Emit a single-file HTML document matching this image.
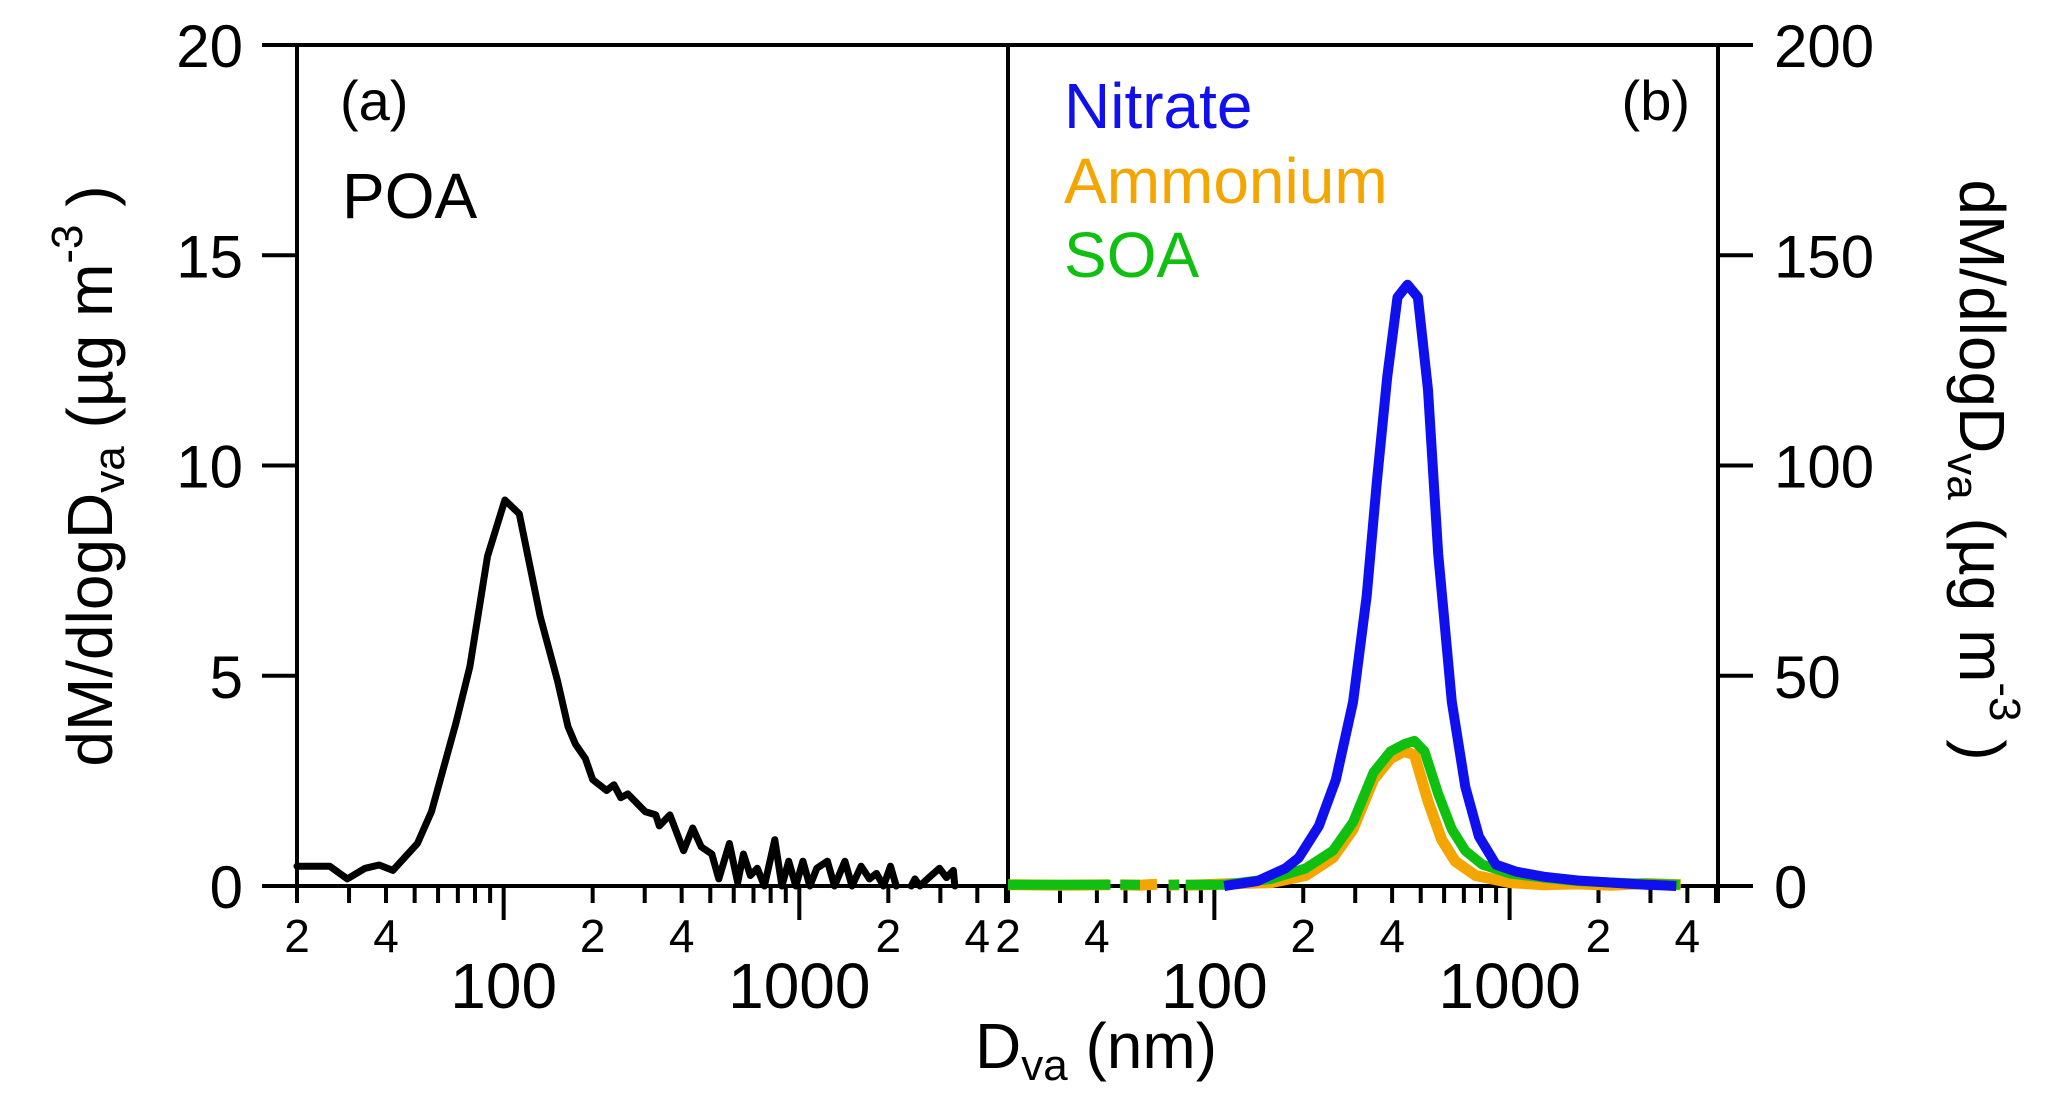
<!DOCTYPE html>
<html><head><meta charset="utf-8"><style>
html,body{margin:0;padding:0;background:#fff;}
svg{display:block;font-family:"Liberation Sans",Arial,sans-serif;}
</style></head><body>
<svg id="chart" width="2067" height="1110" viewBox="0 0 2067 1110" xmlns="http://www.w3.org/2000/svg">
<g id="axes"></g>
<g id="series"></g>
<text x="340" y="120" font-size="56">(a)</text>
<text x="342" y="218" font-size="64">POA</text>
<text x="1690" y="120" font-size="56" text-anchor="end">(b)</text>
<text x="1064" y="128" font-size="64" fill="#1010ee">Nitrate</text>
<text x="1064" y="203" font-size="64" fill="#f5a500">Ammonium</text>
<text x="1064" y="277" font-size="64" fill="#10c010">SOA</text>
<text x="975" y="1068" font-size="64">D<tspan font-size="44" dy="12">va</tspan><tspan dy="-12"> (nm)</tspan></text>
<text transform="translate(112,476) rotate(-90)" text-anchor="middle" font-size="64">dM/dlogD<tspan font-size="44" dy="12">va</tspan><tspan dy="-12"> (µg m</tspan><tspan font-size="44" dy="-30">-3</tspan><tspan dy="30"> )</tspan></text>
<text transform="translate(1960,470) rotate(90)" text-anchor="middle" font-size="64">dM/dlogD<tspan font-size="44" dy="12">va</tspan><tspan dy="-12"> (µg m</tspan><tspan font-size="44" dy="-30">-3</tspan><tspan dy="30"> )</tspan></text>
</svg>
<script>
// ---- data ----
const poaD = [20,25.8,29.6,34,37.9,42.2,51.1,57,69,76.9,88.2,101,113,133,152,165,175,189,200,223,236,249,263,301,327,336,365,406,436,466,506,534,580,619,647,683,721,762,826,873,921,973,1028,1086,1146,1245,1315,1426,1507,1618,1727,1824,1927,2034,2126,null,2393,2460,2557,2744,2980,3146,3321,3357];
const poaY = [0.47,0.47,0.17,0.42,0.5,0.37,1.01,1.77,3.88,5.22,7.84,9.18,8.85,6.4,4.89,3.79,3.37,3.03,2.53,2.27,2.41,2.1,2.19,1.77,1.69,1.43,1.69,0.84,1.38,0.93,0.76,0.17,1.01,0.08,0.76,0.25,0.42,0,1.1,0,0.59,0,0.59,0,0.42,0.59,0,0.59,0,0.47,0.17,0.3,0,0.47,0,null,0,0.17,0,0.2,0.42,0.2,0.37,0];
const nitrateD = [108,140,174,193,226,258,295,328,355,385,417,451,489,529,573,637,708,787,899,1054,1304,1700,2217,2890,3670];
const nitrateY = [0,1.2,4.2,6.7,14.3,25.3,43.8,69,96,121,140,143,140,118,79,43.8,23.6,11.8,5.1,3.4,2.2,1.3,0.8,0.3,0];
const ammoniumD = [20,30,44,null,48,56,64,null,70,76,null,80,92,108,156,204,252,295,346,395,439,476,529,589,654,767,1000,1304,1700,2200,2900,3800];
const ammoniumY = [0.3,0.2,0.3,null,0.3,0.2,0.4,null,0.2,0.3,null,0.2,0.3,0.5,0.8,2.5,6.7,13.5,25.3,30.3,32,31.2,20.2,11,5.9,2.5,0.8,0.3,0.5,0.2,0.6,0.3];
const soaD = [20,30,44.5,null,48,56,null,70,76,null,80,92,108,156,204,252,295,346,395,439,476,515,573,637,708,809,1000,1304,1700,2466,3770];
const soaY = [0.3,0.3,0.3,null,0.3,0.3,null,0.3,0.3,null,0.3,0.3,0.3,1.7,4.2,8.4,15.2,27,32,33.7,34.5,32,21.9,13.5,8.4,5.1,3,2,1.2,0.7,0.3];
const leftTicks = [0,5,10,15,20];
const rightTicks = [0,50,100,150,200];
const minorLabelVals = [20,40,200,400,2000,4000];
const majorLabelVals = [100,1000];

// ---- scales ----
const NS = "http://www.w3.org/2000/svg";
const Y0 = 886, YT = 45, XMIN = 20, XMAX = 5080;
const panels = [{x0:297,x1:1008},{x0:1008,x1:1718}];
function xs(p, d){ const P = panels[p]; return P.x0 + (Math.log10(d)-Math.log10(XMIN))/(Math.log10(XMAX)-Math.log10(XMIN))*(P.x1-P.x0); }
function yl(v){ return Y0 - v/20*(Y0-YT); }
function yr(v){ return Y0 - v/200*(Y0-YT); }
const axes = document.getElementById('axes');
const series = document.getElementById('series');
function mk(tag, attrs, parent){ const e = document.createElementNS(NS, tag); for (const k in attrs) e.setAttribute(k, attrs[k]); parent.appendChild(e); return e; }

// frame
let f = mk('path', {d:`M262 ${YT} H1753 M297 ${YT} V${Y0} M1008 ${YT} V903 M1718 ${YT} V903 M262 ${Y0} H1753`, stroke:'#000','stroke-width':4, fill:'none'}, axes);



// y ticks
leftTicks.forEach(v => {
  const y = yl(v);
  const t = mk('line', {x1:262,x2:297,y1:y,y2:y,stroke:'#000','stroke-width':4}, axes);
  
  
  const l = mk('text', {x:243,y:y+22,'font-size':60,'text-anchor':'end'}, axes);
  l.textContent = v;
  
  
});
rightTicks.forEach(v => {
  const y = yr(v);
  const t = mk('line', {x1:1718,x2:1753,y1:y,y2:y,stroke:'#000','stroke-width':4}, axes);
  
  
  const l = mk('text', {x:1774,y:y+22,'font-size':60}, axes);
  l.textContent = v;
  
  
});

// x ticks
[0,1].forEach(p => {
  for (let dec = 10; dec <= 1000; dec *= 10) {
    for (let m = 1; m <= 9; m++) {
      const d = dec*m;
      if (d < XMIN || d > XMAX) continue;
      const x = xs(p, d);
      const major = (m === 1);
      const t = mk('line', {x1:x,x2:x,y1:Y0,y2:major?920:903,stroke:'#000','stroke-width':4}, axes);
      
      
    }
  }
  minorLabelVals.forEach(d => {
    const l = mk('text', {x:xs(p,d),y:952,'font-size':46,'text-anchor':'middle'}, axes);
    l.textContent = String(d)[0];
    
    
  });
  majorLabelVals.forEach(d => {
    const l = mk('text', {x:xs(p,d),y:1008,'font-size':64,'text-anchor':'middle'}, axes);
    l.textContent = d;
    
    
  });
});

// series
function pathFrom(p, D, Y, yf){
  let s = '', pen = false;
  for (let i = 0; i < D.length; i++) {
    if (D[i] === null || Y[i] === null) { pen = false; continue; }
    s += (pen ? 'L' : 'M') + xs(p, D[i]).toFixed(1) + ' ' + yf(Y[i]).toFixed(1) + ' ';
    pen = true;
  }
  return s;
}
let e;
e = mk('path', {d:pathFrom(0, poaD, poaY, yl), stroke:'#000','stroke-width':7, fill:'none','stroke-linejoin':'round','stroke-linecap':'round'}, series);


e = mk('path', {d:pathFrom(1, ammoniumD, ammoniumY, yr), stroke:'#f5a500','stroke-width':11, fill:'none','stroke-linejoin':'round'}, series);


e = mk('path', {d:pathFrom(1, soaD, soaY, yr), stroke:'#10c010','stroke-width':10, fill:'none','stroke-linejoin':'round'}, series);


e = mk('path', {d:pathFrom(1, nitrateD, nitrateY, yr), stroke:'#1010ee','stroke-width':10, fill:'none','stroke-linejoin':'round'}, series);


</script>
</body></html>
